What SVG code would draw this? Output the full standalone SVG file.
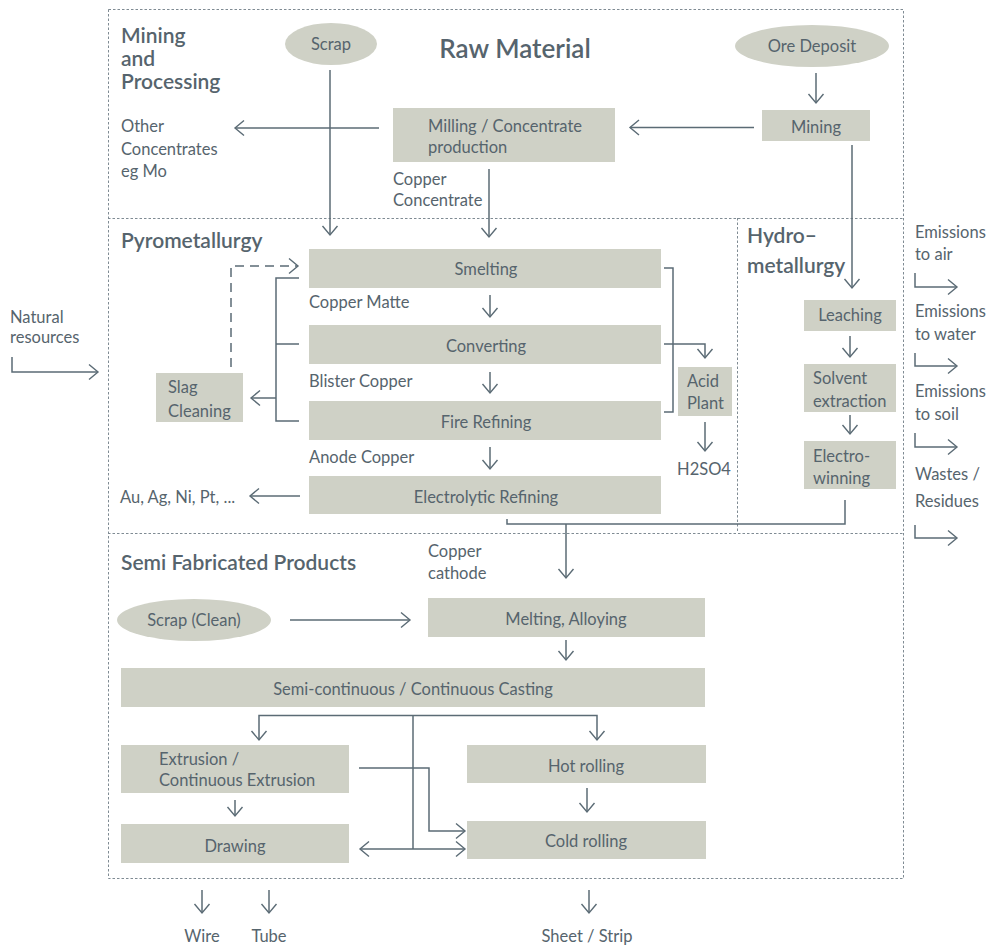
<svg xmlns="http://www.w3.org/2000/svg" width="1004" height="947" viewBox="0 0 1004 947">
<style>
text{font-family:Lato,"Open Sans","Liberation Sans",sans-serif;fill:#56646d;font-size:16.5px}
.h{font-size:21px;font-weight:600}
.t{font-size:26px;font-weight:600}
.c{text-anchor:middle}
.box{fill:#cfd1c6}
.frame{fill:none;stroke:#7f8b93;stroke-width:1;stroke-dasharray:2.5,2}
.ln{fill:none;stroke:#5b6b75;stroke-width:1.5}
.ar{marker-end:url(#ah)}
.dash{stroke-dasharray:9,6}
</style>
<defs>
<marker id="ah" viewBox="-10 -10 20 20" markerWidth="20" markerHeight="20" markerUnits="userSpaceOnUse" refX="0" refY="0" orient="auto-start-reverse">
<path d="M-9,-7.5 L0,0 L-9,7.5" fill="none" stroke="#5b6b75" stroke-width="1.4" stroke-dasharray="none"/>
</marker>
</defs>

<g id="frames">
<rect class="frame" x="108.5" y="9.5" width="795" height="869"/>
<line class="frame" x1="108" y1="218.5" x2="904" y2="218.5"/>
<line class="frame" x1="108" y1="533.5" x2="904" y2="533.5"/>
<line class="frame" x1="737.5" y1="218" x2="737.5" y2="533"/>
</g>

<g id="labels">
<text class="h" x="121" y="43">Mining</text>
<text class="h" x="121" y="66">and</text>
<text class="h" x="121" y="89">Processing</text>
<text class="t c" x="515" y="58">Raw Material</text>
<text class="h" x="121" y="248">Pyrometallurgy</text>
<text class="h" x="747" y="243">Hydro–</text>
<text class="h" x="747" y="273">metallurgy</text>
<text class="h" x="121" y="570">Semi Fabricated Products</text>
<text x="121" y="132">Other</text>
<text x="121" y="155">Concentrates</text>
<text x="121" y="177">eg Mo</text>
<text x="393" y="185">Copper</text>
<text x="393" y="206">Concentrate</text>
<text x="309" y="308">Copper Matte</text>
<text x="309" y="387">Blister Copper</text>
<text x="309" y="463">Anode Copper</text>
<text x="120" y="503">Au, Ag, Ni, Pt, ...</text>
<text class="c" x="704" y="475">H2SO4</text>
<text x="10" y="323">Natural</text>
<text x="10" y="343">resources</text>
<text x="915" y="238">Emissions</text>
<text x="915" y="260">to air</text>
<text x="915" y="317">Emissions</text>
<text x="915" y="340">to water</text>
<text x="915" y="397">Emissions</text>
<text x="915" y="420">to soil</text>
<text x="915" y="480">Wastes /</text>
<text x="915" y="507">Residues</text>
<text x="428" y="557">Copper</text>
<text x="428" y="579">cathode</text>
<text class="c" x="202" y="942">Wire</text>
<text class="c" x="269" y="942">Tube</text>
<text class="c" x="587" y="942">Sheet / Strip</text>
</g>

<g id="connectors">
<path class="ln ar" d="M330,70 V235"/>
<path class="ln ar" d="M489,169 V237"/>
<path class="ln ar" d="M816,73 V103"/>
<path class="ln ar" d="M754,127.5 H630"/>
<path class="ln ar" d="M379,128 H235"/>
<path class="ln ar" d="M852,145 V288"/>
<path class="ln ar" d="M490,295 V317"/>
<path class="ln ar" d="M490,372 V393"/>
<path class="ln ar" d="M490,447 V469"/>
<path class="ln" d="M299,278 H276 V421 H299 M276,344 H299"/>
<path class="ln ar" d="M276,398 H251"/>
<path class="ln dash ar" d="M231,367 V266 H298"/>
<path class="ln ar" d="M300,496 H250"/>
<path class="ln" d="M664,268 H673 V412 H664"/>
<path class="ln ar" d="M664,344 H705 V358"/>
<path class="ln ar" d="M705,422 V451"/>
<path class="ln" d="M507,519 V524 H845 V500"/>
<path class="ln ar" d="M566,524 V578"/>
<path class="ln ar" d="M850,336 V357"/>
<path class="ln ar" d="M850,415 V434"/>
<path class="ln ar" d="M12,357 V372 H98"/>
<path class="ln ar" d="M915,273 V287 H957"/>
<path class="ln ar" d="M915,353 V366 H957"/>
<path class="ln ar" d="M915,433 V447 H957"/>
<path class="ln ar" d="M915,525 V538 H957"/>
<path class="ln ar" d="M290,620 H410"/>
<path class="ln ar" d="M566,640 V660"/>
<path class="ln ar" d="M413,715.5 H259 V740"/>
<path class="ln ar" d="M413,715.5 H597 V740"/>
<path class="ln" d="M413,715 V849"/>
<path class="ln ar" d="M360,849 H465" marker-start="url(#ah)"/>
<path class="ln ar" d="M359,768 H429 V831 H465"/>
<path class="ln ar" d="M235,800 V816"/>
<path class="ln ar" d="M587,788 V812"/>
<path class="ln ar" d="M202,890 V913"/>
<path class="ln ar" d="M269,890 V913"/>
<path class="ln ar" d="M589,890 V913"/>
</g>

<g id="n-scrap"><ellipse class="box" cx="331" cy="44" rx="46" ry="21"/><text class="c" x="331" y="50">Scrap</text></g>
<g id="n-ore"><ellipse class="box" cx="812" cy="46" rx="77" ry="21"/><text class="c" x="812" y="52">Ore Deposit</text></g>
<g id="n-mining"><rect class="box" x="762" y="110" width="108" height="31"/><text class="c" x="816" y="133">Mining</text></g>
<g id="n-milling"><rect class="box" x="393" y="108" width="222" height="54"/><text x="428" y="132">Milling / Concentrate</text><text x="428" y="153">production</text></g>
<g id="n-smelting"><rect class="box" x="309" y="249" width="352" height="39"/><text class="c" x="486" y="275">Smelting</text></g>
<g id="n-converting"><rect class="box" x="309" y="325" width="352" height="39"/><text class="c" x="486" y="352">Converting</text></g>
<g id="n-fire"><rect class="box" x="309" y="401" width="352" height="39"/><text class="c" x="486" y="428">Fire Refining</text></g>
<g id="n-electrolytic"><rect class="box" x="309" y="476" width="352" height="38"/><text class="c" x="486" y="503">Electrolytic Refining</text></g>
<g id="n-acid"><rect class="box" x="678" y="367" width="54" height="49"/><text x="687" y="387">Acid</text><text x="687" y="409">Plant</text></g>
<g id="n-slag"><rect class="box" x="156" y="373" width="87" height="49"/><text x="168" y="393">Slag</text><text x="168" y="417">Cleaning</text></g>
<g id="n-leaching"><rect class="box" x="804" y="300" width="92" height="31"/><text class="c" x="850" y="321">Leaching</text></g>
<g id="n-solvent"><rect class="box" x="804" y="364" width="92" height="48"/><text x="813" y="384">Solvent</text><text x="813" y="407">extraction</text></g>
<g id="n-electrowinning"><rect class="box" x="804" y="441" width="92" height="48"/><text x="813" y="462">Electro-</text><text x="813" y="484">winning</text></g>
<g id="n-scrapclean"><ellipse class="box" cx="194" cy="620" rx="77" ry="21"/><text class="c" x="194" y="626">Scrap (Clean)</text></g>
<g id="n-melting"><rect class="box" x="428" y="598" width="277" height="39"/><text class="c" x="566" y="625">Melting, Alloying</text></g>
<g id="n-casting"><rect class="box" x="121" y="668" width="584" height="39"/><text class="c" x="413" y="695">Semi-continuous / Continuous Casting</text></g>
<g id="n-extrusion"><rect class="box" x="121" y="745" width="228" height="48"/><text x="159" y="765">Extrusion /</text><text x="159" y="786">Continuous Extrusion</text></g>
<g id="n-hot"><rect class="box" x="467" y="745" width="239" height="38"/><text class="c" x="586" y="772">Hot rolling</text></g>
<g id="n-drawing"><rect class="box" x="121" y="824" width="228" height="39"/><text class="c" x="235" y="852">Drawing</text></g>
<g id="n-cold"><rect class="box" x="467" y="821" width="239" height="38"/><text class="c" x="586" y="847">Cold rolling</text></g>
</svg>
